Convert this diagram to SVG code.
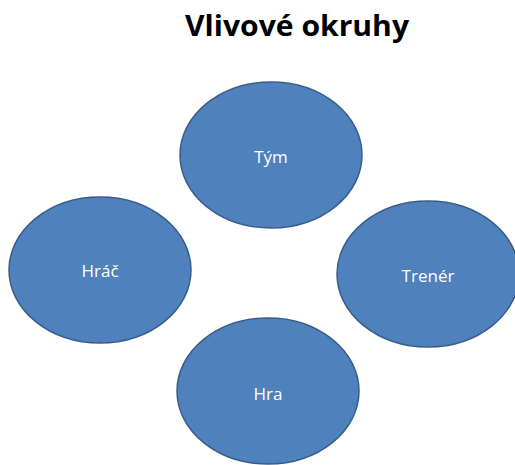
<svg xmlns="http://www.w3.org/2000/svg" width="515" height="465" viewBox="0 0 515 465">
<style>
.node ellipse{fill:#4F81BD;stroke:#385D8A;stroke-width:1.5}
.node text{fill:#FFFFFF;font-family:"Open Sans","Liberation Sans",sans-serif;font-size:17px;text-anchor:middle;dominant-baseline:central}
.title{fill:#000000;font-family:"Open Sans","Liberation Sans",sans-serif;font-weight:bold;font-size:29px}
</style>
<rect width="515" height="465" fill="#FFFFFF"/>
<text class="title" x="185" y="36" textLength="224" lengthAdjust="spacingAndGlyphs">Vlivové okruhy</text>
<g id="connectors"></g>
<g id="tym" class="node"><ellipse cx="271" cy="155" rx="91" ry="73"/><text x="271" y="156">Tým</text></g>
<g id="hrac" class="node"><ellipse cx="100" cy="270" rx="91" ry="73"/><text x="100" y="270">Hráč</text></g>
<g id="trener" class="node"><ellipse cx="428" cy="274" rx="91" ry="73"/><text x="428" y="275">Trenér</text></g>
<g id="hra" class="node"><ellipse cx="268" cy="391" rx="91" ry="73"/><text x="268" y="393">Hra</text></g>
</svg>
